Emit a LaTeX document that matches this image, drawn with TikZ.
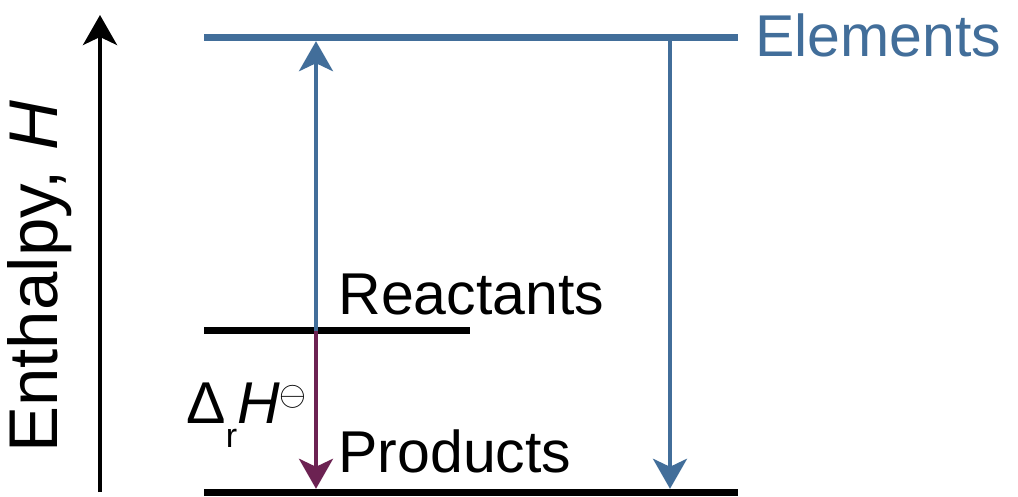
\documentclass[tikz,border=0pt]{standalone}
\usepackage{fontspec}
\setmainfont{Liberation Sans}
\usetikzlibrary{arrows.meta}
\definecolor{elblue}{RGB}{66,110,154}
\definecolor{dhpurple}{RGB}{108,34,82}
\begin{document}
\begin{tikzpicture}[x=0.5pt,y=-0.5pt,
  level/.style={line width=3.5pt},
  arr/.style={line width=2pt,-{Stealth[length=15pt,width=17pt,inset=4pt]}},
  lbl/.style={inner sep=0pt,font=\fontsize{29.5}{32}\selectfont}]
\useasboundingbox (0,0) rectangle (1018,497);
% level end points
\coordinate (eL) at (204,38);
\coordinate (eR) at (738,38);
\coordinate (rL) at (204,331);
\coordinate (rR) at (470,331);
\coordinate (pL) at (204,492);
\coordinate (pR) at (738,492);
\coordinate (e1) at (316,38);
\coordinate (r1) at (316,331);
\coordinate (p1) at (316,492);
\coordinate (e2) at (670,38);
\coordinate (p2) at (670,492);
\coordinate (axb) at (100,492);
\coordinate (axt) at (100,15);
% levels
\draw[level,elblue] (eL) -- (eR);
\draw[level] (rL) -- (rR);
\draw[level] (pL) -- (pR);
% axis
\draw[arr,line width=2pt] (axb) -- (axt);
\node[lbl,font=\fontsize{34.5}{36}\selectfont,rotate=90,anchor=base west] (ax) at (57,453) {Enthalpy, \textit{H}};
% arrows
\draw[arr,elblue,shorten >=1.6pt] (r1) -- (e1);
\draw[arr,dhpurple,shorten >=1.6pt] (r1) -- (p1);
\draw[arr,elblue,shorten <=1.6pt,shorten >=1.6pt] (e2) -- (p2);
% labels
\node[lbl,text=elblue,anchor=base west] (el) at (755,57) {Elements};
\node[lbl,anchor=base west] (re) at (338,315) {Reactants};
\node[lbl,anchor=base west] (pr) at (338,473) {Products};
\node[lbl,anchor=base west] (dh) at (186,423) {Δ\raisebox{-0.42em}{\fontsize{17}{18}\selectfont r}\textit{H}\raisebox{0.3em}{\fontsize{19}{20}\selectfont$\ominus$}};
\end{tikzpicture}
\end{document}
